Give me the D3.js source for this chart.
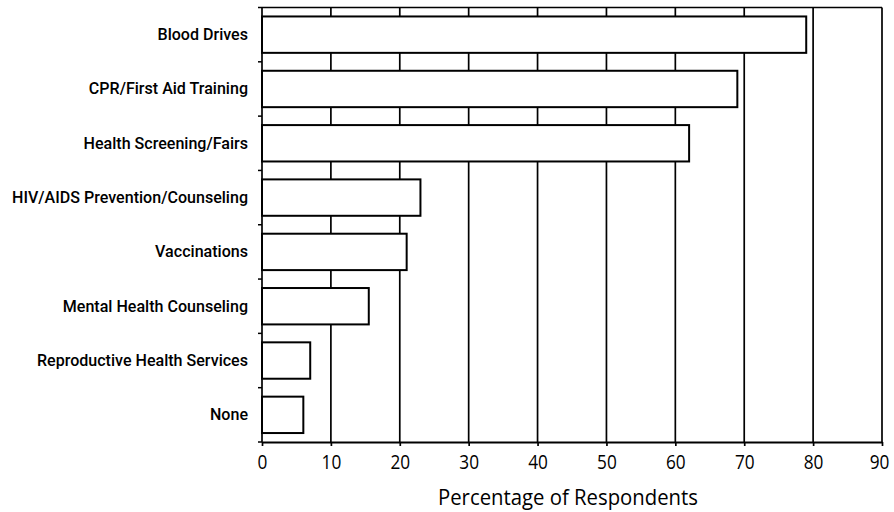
<!DOCTYPE html>
<html>
<head>
<meta charset="utf-8">
<script src="https://cdn.jsdelivr.net/npm/d3@7"></script>
<style>
  body { margin: 0; background: #fff; }
  svg { display: block; }
</style>
</head>
<body>
<svg id="chart" width="894" height="512"></svg>
<script>
const categories = [
  "Blood Drives",
  "CPR/First Aid Training",
  "Health Screening/Fairs",
  "HIV/AIDS Prevention/Counseling",
  "Vaccinations",
  "Mental Health Counseling",
  "Reproductive Health Services",
  "None"
];
const values = [79, 69, 62, 23, 21, 15.5, 7, 6];
const xTicks = [0, 10, 20, 30, 40, 50, 60, 70, 80, 90];
const xTitle = "Percentage of Respondents";

(function () {
const svg = d3.select("#chart");
const pLeft = 262, pRight = 882, pTop = 7.5, pBottom = 442;

const x = d3.scaleLinear().domain([0, 90]).range([pLeft, pRight]);
const y = d3.scaleBand().domain(categories).range([pTop, pBottom])
  .paddingInner(0.33).paddingOuter(0.165);

function compress(sel, k) {
  sel.each(function () {
    const w = this.getComputedTextLength();
    d3.select(this).attr("textLength", w * k).attr("lengthAdjust", "spacingAndGlyphs");
  });
}

// gridlines
svg.append("g").selectAll("line").data(xTicks.slice(1)).join("line")
  .attr("x1", d => x(d)).attr("x2", d => x(d))
  .attr("y1", pTop).attr("y2", pBottom)
  .attr("stroke", "#000").attr("stroke-width", 1.7);

// top border
svg.append("line").attr("x1", pLeft).attr("x2", pRight)
  .attr("y1", pTop).attr("y2", pTop)
  .attr("stroke", "#000").attr("stroke-width", 1.7);

// bars
svg.append("g").selectAll("rect").data(categories).join("rect")
  .attr("x", x(0))
  .attr("y", d => y(d))
  .attr("width", (d, i) => x(values[i]) - x(0))
  .attr("height", y.bandwidth())
  .attr("fill", "#fff")
  .attr("stroke", "#000")
  .attr("stroke-width", 2);

// left axis line and boundary ticks
svg.append("line").attr("x1", pLeft).attr("x2", pLeft)
  .attr("y1", pTop).attr("y2", pBottom)
  .attr("stroke", "#000").attr("stroke-width", 1.7);
const bounds = d3.range(categories.length + 1).map(i => pTop + i * y.step());
svg.append("g").selectAll("line").data(bounds).join("line")
  .attr("x1", pLeft - 4).attr("x2", pLeft)
  .attr("y1", d => d).attr("y2", d => d)
  .attr("stroke", "#000").attr("stroke-width", 1.5);

// category labels
const yAxis = svg.append("g").attr("transform", `translate(${pLeft},0)`)
  .call(d3.axisLeft(y).tickSize(0).tickPadding(14));
yAxis.select(".domain").remove();
const yLabels = yAxis.selectAll("text")
  .attr("font-family", "Roboto, sans-serif")
  .attr("font-weight", 500)
  .attr("font-size", 17)
  .attr("fill", "#000");
let maxW = 0;
yLabels.each(function () { maxW = Math.max(maxW, this.getComputedTextLength()); });
compress(yLabels, 236 / maxW);

// bottom axis
const xAxis = svg.append("g").attr("transform", `translate(0,${pBottom})`)
  .call(d3.axisBottom(x).tickValues(xTicks).tickSize(4).tickPadding(9).tickSizeOuter(0));
xAxis.select(".domain").attr("stroke-width", 2);
xAxis.selectAll(".tick line").attr("stroke-width", 1.7);
const xLabels = xAxis.selectAll("text")
  .attr("font-family", "'Open Sans', sans-serif")
  .attr("font-size", 20)
  .attr("fill", "#000");
compress(xLabels, 0.86);
// keep the last label inside the window
xLabels.filter(d => d === xTicks[xTicks.length - 1]).attr("x", -3);

const title = svg.append("text")
  .attr("x", (pLeft + pRight) / 2 - 4).attr("y", 505)
  .attr("text-anchor", "middle")
  .attr("font-family", "'Open Sans', sans-serif")
  .attr("font-size", 22.5)
  .attr("fill", "#000")
  .text(xTitle);
compress(title, 260 / title.node().getComputedTextLength());
})();
</script>
</body>
</html>
